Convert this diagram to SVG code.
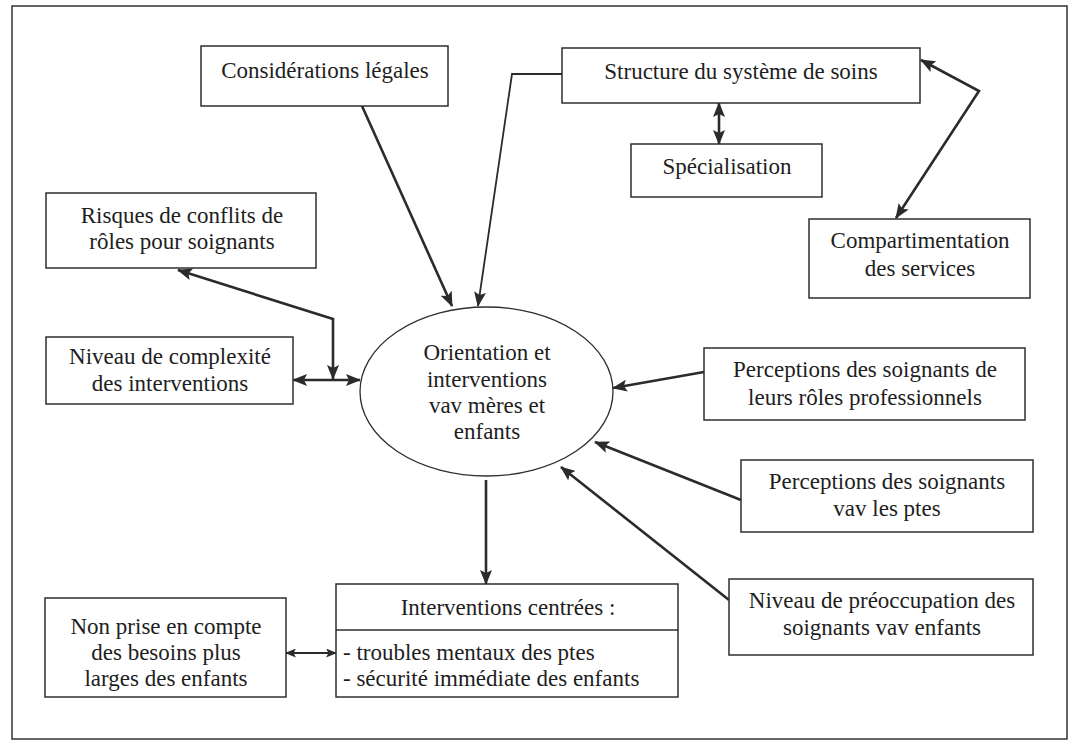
<svg xmlns="http://www.w3.org/2000/svg" width="1073" height="742" viewBox="0 0 1073 742">
  <defs>
    <marker id="arr" markerUnits="userSpaceOnUse" viewBox="0 0 15 12" markerWidth="15" markerHeight="12" refX="14" refY="6" orient="auto-start-reverse">
      <path d="M0,0 L15,6 L0,12 L3,6 z" fill="#2b2b2b"/>
    </marker>
    <marker id="arr-sm" markerUnits="userSpaceOnUse" viewBox="0 0 11 9" markerWidth="11" markerHeight="9" refX="10" refY="4.5" orient="auto-start-reverse">
      <path d="M0,0 L11,4.5 L0,9 L2.5,4.5 z" fill="#2b2b2b"/>
    </marker>
  </defs>
  <style>
    .frame { fill: #fff; stroke: #333; stroke-width: 1.5; }
    .box { fill: #fff; stroke: #2e2e2e; stroke-width: 1.5; }
    .lbl { font-family: "Liberation Serif", "Times New Roman", serif; font-size: 23px; fill: #1e1e1e; text-anchor: middle; }
    .lst { text-anchor: start; }
    .link { fill: none; stroke: #2b2b2b; stroke-width: 2.6; }
    .thin { stroke-width: 1.8; }
  </style>

  <!-- outer frame -->
  <rect class="frame" x="12" y="6" width="1055" height="733"/>

  <!-- connectors -->
  <g id="connectors">
    <line class="link" x1="362" y1="106" x2="452" y2="306" marker-end="url(#arr)"/>
    <polyline class="link thin" points="562,74 512,74 478,306" marker-end="url(#arr)"/>
    <line class="link" x1="719" y1="103" x2="719" y2="144" marker-start="url(#arr)" marker-end="url(#arr)"/>
    <polyline class="link" points="921,60 979,91 896,218" marker-start="url(#arr)" marker-end="url(#arr)"/>
    <polyline class="link" points="178,270 333,319 333,379" marker-start="url(#arr)" marker-end="url(#arr)"/>
    <line class="link" x1="293" y1="380" x2="360" y2="380" marker-start="url(#arr)" marker-end="url(#arr)"/>
    <line class="link" x1="704" y1="372" x2="613" y2="388" marker-end="url(#arr)"/>
    <line class="link" x1="741" y1="500" x2="595" y2="442" marker-end="url(#arr)"/>
    <line class="link" x1="729" y1="600" x2="561" y2="467" marker-end="url(#arr)"/>
    <line class="link" x1="486" y1="480" x2="486" y2="584" marker-end="url(#arr)"/>
    <line class="link thin" x1="286" y1="653" x2="336" y2="653" marker-start="url(#arr-sm)" marker-end="url(#arr-sm)"/>
  </g>

  <g id="considerations">
    <rect class="box" x="201" y="46" width="247" height="60"/>
    <text class="lbl" x="325" y="78">Considérations légales</text>
  </g>

  <g id="structure">
    <rect class="box" x="562" y="48" width="358" height="55"/>
    <text class="lbl" x="741" y="79">Structure du système de soins</text>
  </g>

  <g id="specialisation">
    <rect class="box" x="631" y="144" width="191" height="53"/>
    <text class="lbl" x="727" y="174">Spécialisation</text>
  </g>

  <g id="compartimentation">
    <rect class="box" x="809" y="219" width="221" height="79"/>
    <text class="lbl" x="920" y="248">Compartimentation</text>
    <text class="lbl" x="920" y="276">des services</text>
  </g>

  <g id="risques">
    <rect class="box" x="46" y="193" width="270" height="75"/>
    <text class="lbl" x="182" y="223">Risques de conflits de</text>
    <text class="lbl" x="182" y="249">rôles pour soignants</text>
  </g>

  <g id="complexite">
    <rect class="box" x="46" y="337" width="247" height="67"/>
    <text class="lbl" x="170" y="364">Niveau de complexité</text>
    <text class="lbl" x="170" y="391">des interventions</text>
  </g>

  <g id="orientation">
    <ellipse fill="#fff" stroke="#2e2e2e" stroke-width="1.3" cx="486.5" cy="391.5" rx="126.5" ry="84.5"/>
    <text class="lbl" x="487" y="360">Orientation et</text>
    <text class="lbl" x="487" y="387">interventions</text>
    <text class="lbl" x="487" y="413">vav mères et</text>
    <text class="lbl" x="487" y="439">enfants</text>
  </g>

  <g id="perceptions-roles">
    <rect class="box" x="704" y="348" width="321" height="72"/>
    <text class="lbl" x="865" y="377">Perceptions des soignants de</text>
    <text class="lbl" x="865" y="405">leurs rôles professionnels</text>
  </g>

  <g id="perceptions-ptes">
    <rect class="box" x="741" y="460" width="292" height="72"/>
    <text class="lbl" x="887" y="489">Perceptions des soignants</text>
    <text class="lbl" x="887" y="516">vav les ptes</text>
  </g>

  <g id="preoccupation">
    <rect class="box" x="729" y="579" width="304" height="76"/>
    <text class="lbl" x="882" y="608">Niveau de préoccupation des</text>
    <text class="lbl" x="882" y="635">soignants vav enfants</text>
  </g>

  <g id="interventions-centrees">
    <rect class="box" x="336" y="584" width="342" height="113"/>
    <line stroke="#2e2e2e" stroke-width="1.5" x1="336" y1="630" x2="678" y2="630"/>
    <text class="lbl" x="508" y="615">Interventions centrées :</text>
    <text class="lbl lst" x="343" y="660">- troubles mentaux des ptes</text>
    <text class="lbl lst" x="343" y="686">- sécurité immédiate des enfants</text>
  </g>

  <g id="non-prise">
    <rect class="box" x="45" y="598" width="241" height="99"/>
    <text class="lbl" x="166" y="634">Non prise en compte</text>
    <text class="lbl" x="166" y="660">des besoins plus</text>
    <text class="lbl" x="166" y="686">larges des enfants</text>
  </g>
</svg>
